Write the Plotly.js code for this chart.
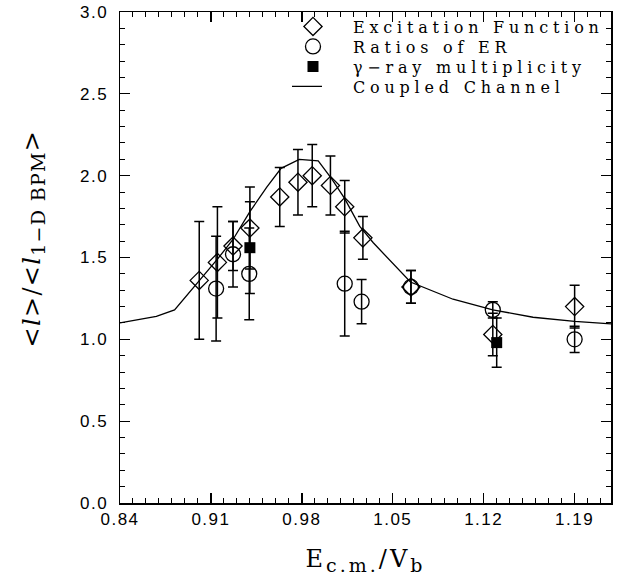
<!DOCTYPE html>
<html><head><meta charset="utf-8">
<script src="https://cdn.plot.ly/plotly-3.0.1.min.js"></script>
<style>
html,body{margin:0;padding:0;background:#fff;}
#chart{width:624px;height:581px;}
.legendtext{letter-spacing:4.8px;}
.xtick text,.ytick text{letter-spacing:1.5px;}
.g-xtitle text{letter-spacing:3px;}
.annotation-text{letter-spacing:1.3px;}
</style></head><body><div id="chart"></div>
<script>
// Excitation Function (open diamonds)
const excX = [0.901, 0.915, 0.927, 0.940, 0.963, 0.977, 0.988, 1.002, 1.013, 1.027, 1.064, 1.127, 1.190];
const excY = [1.36, 1.47, 1.57, 1.68, 1.87, 1.96, 2.00, 1.94, 1.81, 1.62, 1.32, 1.03, 1.20];
const excErr = [0.36, 0.34, 0.15, 0.25, 0.18, 0.20, 0.19, 0.18, 0.16, 0.13, 0.10, 0.13, 0.13];

// Ratios of ER (open circles)
const erX = [0.914, 0.927, 0.9395, 1.013, 1.026, 1.064, 1.127, 1.190];
const erY = [1.31, 1.52, 1.40, 1.34, 1.23, 1.32, 1.18, 1.00];
const erErr = [0.32, 0.20, 0.28, 0.32, 0.135, 0.10, 0.05, 0.08];

// gamma-ray multiplicity (filled squares)
const gamX = [0.940, 1.130];
const gamY = [1.56, 0.98];
const gamErr = [0.28, 0.15];

// Coupled Channel calculation (line)
const ccX = [0.84, 0.868, 0.882, 0.9015, 0.915, 0.927, 0.94, 0.953, 0.964, 0.978, 0.9926, 1.003, 1.013, 1.0246, 1.035, 1.0636, 1.0964, 1.127, 1.158, 1.19, 1.218];
const ccY = [1.10, 1.14, 1.18, 1.36, 1.49, 1.61, 1.78, 1.93, 2.045, 2.10, 2.09, 1.98, 1.86, 1.69, 1.59, 1.35, 1.245, 1.18, 1.135, 1.11, 1.095];

const legendNames = ['Excitation Function', 'Ratios of ER', '\u03b3\u2212ray multiplicity', 'Coupled Channel'];
const xTitle = 'E<sub><span style="font-size:19px">c.m.</span></sub>/V<sub><span style="font-size:19px">b</span></sub>';
const yTitle = '&lt;<i>l</i>&gt;/&lt;<i>l</i><sub><span style="font-size:19px">1\u2212D BPM</span></sub>&gt;';

const errStyle = (arr) => ({type: 'data', array: arr, visible: true, color: 'black', thickness: 1.5, width: 5});

const traces = [
  {x: ccX, y: ccY, mode: 'lines', name: legendNames[3], legendrank: 4,
   line: {color: 'black', width: 1.3}},
  {x: excX, y: excY, mode: 'markers', name: legendNames[0], legendrank: 1,
   marker: {symbol: 'diamond-open', size: 14, color: 'black', line: {width: 1.3, color: 'black'}},
   error_y: errStyle(excErr)},
  {x: erX, y: erY, mode: 'markers', name: legendNames[1], legendrank: 2,
   marker: {symbol: 'circle-open', size: 15, color: 'black', line: {width: 1.3, color: 'black'}},
   error_y: errStyle(erErr)},
  {x: gamX, y: gamY, mode: 'markers', name: legendNames[2], legendrank: 3,
   marker: {symbol: 'square', size: 11, color: 'black'},
   error_y: errStyle(gamErr)}
];

const axisCommon = {
  ticks: 'inside', ticklen: 10, tickwidth: 1.3, tickcolor: 'black',
  showline: true, mirror: 'allticks', linecolor: 'black', linewidth: 1.5,
  showgrid: false, zeroline: false,
  tickfont: {family: 'Liberation Sans, Arial, sans-serif', size: 17, color: 'black'}
};

const layout = {
  width: 624, height: 581,
  margin: {l: 120, r: 13, t: 11, b: 78},
  paper_bgcolor: 'white', plot_bgcolor: 'white',
  showlegend: true,
  legend: {x: 0.3116, y: 1.003, xanchor: 'left', yanchor: 'top', bgcolor: 'rgba(0,0,0,0)',
           itemwidth: 70,
           font: {family: 'DejaVu Serif, serif', size: 16, color: 'black'}},
  xaxis: Object.assign({}, axisCommon, {
    range: [0.84, 1.218], tickmode: 'linear', tick0: 0.84, dtick: 0.07, tickformat: '.2f',
    minor: {tick0: 0.84, dtick: 0.01, ticklen: 5, tickwidth: 1, tickcolor: 'black', ticks: 'inside', showgrid: false},
    title: {text: xTitle, standoff: 22,
            font: {family: 'DejaVu Serif, serif', size: 24, color: 'black'}}
  }),
  yaxis: Object.assign({}, axisCommon, {
    range: [0, 3], tickmode: 'linear', tick0: 0, dtick: 0.5, tickformat: '.1f',
    ticklabelstandoff: 7,
    minor: {tick0: 0, dtick: 0.1, ticklen: 5, tickwidth: 1, tickcolor: 'black', ticks: 'inside', showgrid: false}
  }),
  annotations: [
    {text: yTitle, textangle: -90, showarrow: false,
     xref: 'paper', yref: 'paper', x: -0.176, y: 0.538, xanchor: 'center', yanchor: 'middle',
     font: {family: 'DejaVu Serif, serif', size: 24, color: 'black'}}
  ]
};

Plotly.newPlot('chart', traces, layout, {displayModeBar: false, staticPlot: true}).then(function(gd) {
  // tighten legend row spacing to match the reference
  const items = Array.from(gd.querySelectorAll('.legend .traces'));
  if (items.length > 1) {
    const ys = items.map(el => el.getBoundingClientRect().top);
    const step = ys[1] - ys[0];
    const want = 20;
    items.forEach((el, i) => {
      const t = el.getAttribute('transform') || '';
      const m = t.match(/translate\(\s*([-\d.e]+)[ ,]+([-\d.e]+)\s*\)/);
      if (m) {
        const nx = parseFloat(m[1]);
        const ny = parseFloat(m[2]) - i * (step - want);
        el.setAttribute('transform', 'translate(' + nx + ',' + ny + ')');
      }
    });
  }
  // shorter legend line sample, as in the reference
  gd.querySelectorAll('.legend path.js-line').forEach(p => p.setAttribute('d', 'M19,0h30'));
});
</script>
</body></html>
